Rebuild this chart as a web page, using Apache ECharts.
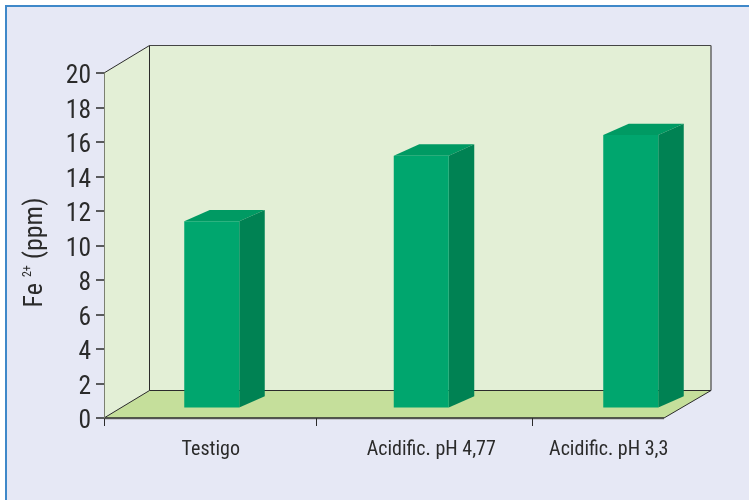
<!DOCTYPE html>
<html>
<head>
<meta charset="utf-8"/>
<title>Fe 2+ (ppm)</title>
<script src="https://cdn.jsdelivr.net/npm/echarts@6/dist/echarts.min.js"></script>
<style>
html,body{margin:0;padding:0;background:#fff}
#main{width:749px;height:500px}
</style>
</head>
<body>
<div id="main"></div>
<script>
var categories = ['Testigo', 'Acidific. pH 4,77', 'Acidific. pH 3,3'];
var feValues = [10.8, 14.6, 15.8];
var yTicks = [0, 20];

// the picture's labels do not sit under the bars, nudged by hand (px)
var labelShift = [-1, 10, -22];

var FONT = 'Roboto Condensed';
var DEPTH_X = 45.5, DEPTH_Y = -27.5;    // floor depth
var BAR_W = 55, BAR_DX = 25.5, BAR_DY = -11.3, BAR_LIFT = -10.5;
var FLOOR_RIGHT = 664;
var FRONT_TICKS = [104.5, 316.5, 532.5];
var INK = '#2b2b2b';

function line(x1, y1, x2, y2, color, w) {
    return {type: 'line', shape: {x1: x1, y1: y1, x2: x2, y2: y2}, style: {stroke: color || INK, lineWidth: w || 1}};
}
function poly(points, color) {
    return {type: 'polygon', shape: {points: points}, style: {fill: color}};
}

// walls and floor of the box, hung from the y axis scale
function renderScene(params, api) {
    var bottom = api.coord([0, yTicks[0]]);
    var top = api.coord([0, yTicks[1]]);
    var x0 = 104, y0 = bottom[1], yt = top[1];
    var bx = x0 + DEPTH_X, by = y0 + DEPTH_Y, byt = yt + DEPTH_Y;
    var rx = FLOOR_RIGHT, brx = rx + 47;
    var kids = [
        poly([[x0, yt], [bx, byt], [bx, by], [x0, y0]], '#e3efd6'),
        poly([[bx, byt], [brx, byt], [brx, by], [bx, by]], '#e3efd6'),
        poly([[x0, y0], [bx, by], [brx, by], [rx, y0]], '#c5df9b'),
        line(x0, yt, bx, byt),
        line(bx, byt, brx, byt, '#444'),
        line(bx, byt, bx, by),
        line(brx, byt, brx, by, '#666', 1.5),
        line(bx, by, brx, by),
        line(x0, y0, bx, by),
        line(rx, y0, brx, by),
        line(x0, y0 + 1, rx, y0 + 1, '#a9a9a9'),
        line(x0, y0, rx, y0, INK, 1.5)
    ];
    for (var i = 0; i < FRONT_TICKS.length; i++) {
        kids.push(line(FRONT_TICKS[i], y0, FRONT_TICKS[i], y0 + 8));
    }
    return {type: 'group', children: kids};
}

function renderBar(params, api) {
    var top = api.coord([api.value(0), api.value(1)]);
    var base = api.coord([api.value(0), 0]);
    var l = top[0] - BAR_W / 2, r = top[0] + BAR_W / 2;
    var yt = top[1] + BAR_LIFT, yb = base[1] + BAR_LIFT;
    return {type: 'group', children: [
        poly([[l, yt], [l + BAR_DX, yt + BAR_DY], [r + BAR_DX, yt + BAR_DY], [r, yt]], '#009a63'),
        poly([[r, yt], [r + BAR_DX, yt + BAR_DY], [r + BAR_DX, yb + BAR_DY], [r, yb]], '#008253'),
        poly([[l, yt], [r, yt], [r, yb], [l, yb]], '#00a66e')
    ]};
}

var myChart = echarts.init(document.getElementById('main'), null, {renderer: 'canvas'});

var xData = categories.map(function (name, i) {
    var s = labelShift[i] * 2;
    return {value: name, textStyle: {padding: s > 0 ? [0, 0, 0, s] : [0, -s, 0, 0]}};
});
var barData = feValues.map(function (v, i) { return [i, v]; });

var option = {
    animation: false,
    backgroundColor: '#fff',
    graphic: [
        {type: 'rect', z: -10, shape: {x: 5, y: 5, width: 744, height: 495},
            style: {fill: '#e6e8f5'}},
        {type: 'rect', z: -9, shape: {x: 5, y: 5, width: 744, height: 2}, style: {fill: '#3f88c9'}},
        {type: 'rect', z: -9, shape: {x: 5, y: 5, width: 2, height: 495}, style: {fill: '#3f88c9'}}
    ],
    grid: {left: 107, top: 73, width: 628.5, height: 345},
    xAxis: {
        type: 'category',
        data: xData,
        axisLine: {show: false},
        axisTick: {show: false},
        axisLabel: {
            interval: 0, margin: 22, fontSize: 20,
            color: '#2b2b2b', fontFamily: FONT
        }
    },
    yAxis: {
        type: 'value',
        min: 0, max: 20, interval: 2,
        offset: 3,
        z: 5,
        name: 'Fe {sup|2+} (ppm)',
        nameLocation: 'middle',
        nameGap: 56,
        nameRotate: 90,
        nameTextStyle: {
            fontSize: 26, color: '#2b2b2b', fontFamily: FONT,
            padding: [0, 14, 0, 0],
            rich: {sup: {fontSize: 12, color: '#2b2b2b', fontFamily: FONT, verticalAlign: 'top', padding: [0, 0, 8, 0]}}
        },
        splitLine: {show: false},
        axisLine: {show: true, lineStyle: {color: '#7b8070'}},
        axisTick: {show: true, length: 8, lineStyle: {color: '#2b2b2b', width: 1.5}},
        axisLabel: {
            margin: 13, fontSize: 25.5, verticalAlign: 'top', lineHeight: 8,
            color: '#2b2b2b', fontFamily: FONT
        }
    },
    series: [
        {type: 'custom', z: 1, silent: true, data: [[0, 0]], renderItem: renderScene},
        {type: 'custom', z: 2, silent: true, data: barData, renderItem: renderBar,
            encode: {x: 0, y: 1}}
    ]
};
myChart.setOption(option);
</script>
</body>
</html>
